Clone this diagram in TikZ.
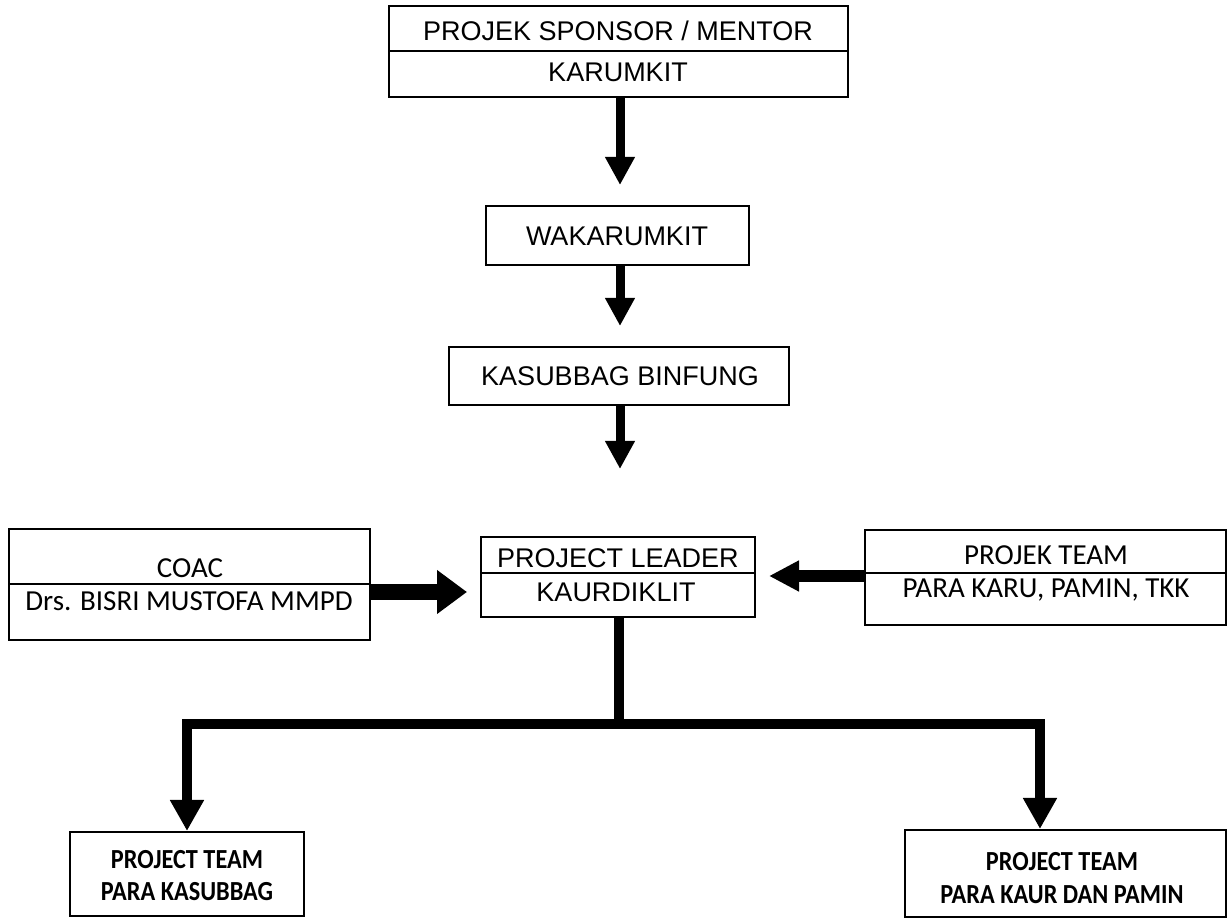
\documentclass[tikz,border=0pt]{standalone}
\usepackage{fontspec}
\setmainfont{Liberation Sans}
\newfontfamily\calib{Carlito}
\newfontfamily\calibN[FakeStretch=0.88]{Carlito}
\usetikzlibrary{arrows.meta}
\begin{document}
\begin{tikzpicture}[x=0.5pt,y=-0.5pt,
  box/.style n args={2}{draw, line width=1pt, minimum width=#1*0.5pt, minimum height=#2*0.5pt, inner sep=0pt},
  arialtxt/.style={inner sep=0pt, font=\fontsize{13.5}{15}\selectfont},
  caltxt/.style={inner sep=0pt, font=\calib\fontsize{14.5}{16}\selectfont},
  boldtxt/.style={inner sep=0pt, font=\calibN\bfseries\fontsize{13.8}{16}\selectfont},
  divider/.style={line width=1pt},
  varrow/.style={line width=4.5pt, -{Triangle[width=14pt,length=14pt]}},
  coacarrow/.style={line width=8pt, -{Triangle[width=21pt,length=15pt]}},
  ptarrow/.style={line width=6pt, -{Triangle[width=14.5pt,length=15pt]}},
  barline/.style={line width=5pt, line join=miter},
  bararrow/.style={line width=5pt, line join=miter, -{Triangle[width=16pt,length=15.5pt]}}
]
\useasboundingbox (0,0) rectangle (1228,919);

% boxes
\node[box={459}{91}] (top) at (618.5,51.5) {};
\node[box={263}{59}] (wak) at (617,235.5) {};
\node[box={340}{58}] (kas) at (619,376) {};
\node[box={274}{80}] (pl) at (618,577) {};
\node[box={361}{111}] (coac) at (189.5,584.5) {};
\node[box={361}{95}] (pt) at (1045.5,577.5) {};
\node[box={234}{84}] (bl) at (187,874) {};
\node[box={321}{87}] (br) at (1065.5,873.5) {};

% dividers
\coordinate (d1) at (0,51);
\coordinate (d2) at (0,573);
\coordinate (d3) at (0,584);
\draw[divider] (top.west |- d1) -- (top.east |- d1);
\draw[divider] (pl.west |- d2) -- (pl.east |- d2);
\draw[divider] (pt.west |- d2) -- (pt.east |- d2);
\draw[divider] (coac.west |- d3) -- (coac.east |- d3);

% texts
\node[arialtxt] (t1) at (618,31) {PROJEK SPONSOR / MENTOR};
\node[arialtxt] (t2) at (618,72) {KARUMKIT};
\node[arialtxt] (t3) at (617,236) {WAKARUMKIT};
\node[arialtxt] (t4) at (620,376) {KASUBBAG BINFUNG};
\node[arialtxt] (t5) at (618,558) {PROJECT LEADER};
\node[arialtxt] (t6) at (616,592) {KAURDIKLIT};
\node[caltxt] (t7) at (190,568) {COAC};
\node[caltxt] (t8) at (189,601) {Drs. BISRI MUSTOFA MMPD};
\node[caltxt] (t9) at (1046,555) {PROJEK TEAM};
\node[caltxt] (t10) at (1046,590) {PARA KARU, PAMIN, TKK};
\node[boldtxt] (t11) at (187,860) {PROJECT TEAM};
\node[boldtxt] (t12) at (187,892) {PARA KASUBBAG};
\node[boldtxt] (t13) at (1062,862) {PROJECT TEAM};
\node[boldtxt] (t14) at (1062,895) {PARA KAUR DAN PAMIN};

% vertical arrows
\coordinate (ax) at (620,0);
\draw[varrow, shorten >=10pt] (top.south -| ax) -- (wak.north -| ax);
\draw[varrow, shorten >=10pt] (wak.south -| ax) -- (kas.north -| ax);
\draw[varrow, shorten >=33.5pt] (kas.south -| ax) -- (pl.north -| ax);

% side arrows
\coordinate (cy) at (0,592);
\coordinate (py) at (0,576);
\draw[coacarrow, shorten >=6.5pt] (coac.east |- cy) -- (pl.west |- cy);
\draw[ptarrow, shorten >=6.5pt] (pt.west |- py) -- (pl.east |- py);

% bottom tree
\coordinate (jc) at (619,724);
\coordinate (rx) at (1040,0);
\draw[barline] (pl.south -| jc) -- (jc);
\draw[bararrow] ([xshift=1.25pt]jc) -| (bl.north);
\draw[bararrow] ([xshift=-1.25pt]jc) -| (br.north -| rx);
\end{tikzpicture}
\end{document}
